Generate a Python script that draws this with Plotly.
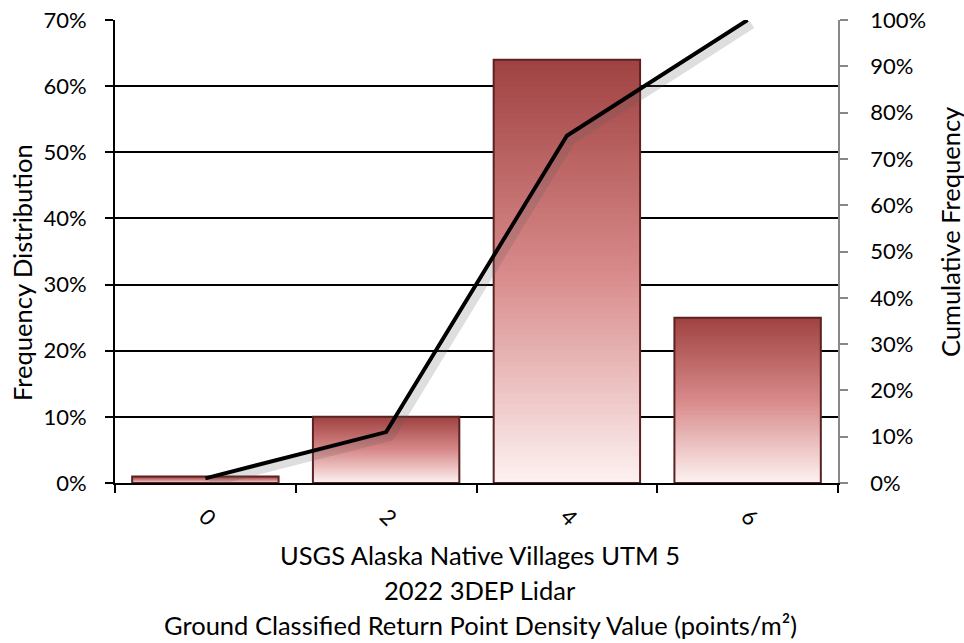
import plotly.graph_objects as go

categories = ["0", "2", "4", "6"]
frequency = [0.01, 0.10, 0.64, 0.25]
cumulative = [0.01, 0.11, 0.75, 1.00]
left_ticks = [0, 0.1, 0.2, 0.3, 0.4, 0.5, 0.6, 0.7]
right_ticks = [0, 0.1, 0.2, 0.3, 0.4, 0.5, 0.6, 0.7, 0.8, 0.9, 1.0]
x_title_lines = ["USGS Alaska Native Villages UTM 5",
                 "2022 3DEP Lidar",
                 "Ground Classified Return Point Density Value (points/m²)"]
y_title = "Frequency Distribution"
y2_title = "Cumulative Frequency"

FONT = "Lato"
N = 80

def lerp(c1, c2, t):
    return tuple(c1[i] + (c2[i] - c1[i]) * t for i in range(3))

bottom_c = (254, 242, 242)
mid_c = (216, 138, 138)
top_c = (160, 66, 66)

def grad(t):
    if t < 0.5:
        c = lerp(bottom_c, mid_c, t / 0.5)
    else:
        c = lerp(mid_c, top_c, (t - 0.5) / 0.5)
    return "rgb(%d,%d,%d)" % c

fig = go.Figure()
for i in range(N):
    base = [v * i / N for v in frequency]
    seg = [min(2.5 * v / N, v - b) for v, b in zip(frequency, base)]
    fig.add_trace(go.Bar(
        x=categories, y=seg, base=base,
        marker=dict(color=grad((i + 0.5) / N), line=dict(width=0)),
        showlegend=False, hoverinfo="skip", yaxis="y"))

fig.add_trace(go.Bar(
    x=categories, y=frequency,
    marker=dict(color="rgba(0,0,0,0)", line=dict(color="#5a2222", width=2)),
    showlegend=False, yaxis="y"))

# soft drop shadow of the cumulative line (same data, drawn on slightly shifted hidden axes)
fig.add_trace(go.Scatter(
    x=categories, y=cumulative, xaxis="x2", yaxis="y3", mode="lines",
    line=dict(color="rgba(90,90,90,0.2)", width=8), showlegend=False, hoverinfo="skip"))

fig.add_trace(go.Scatter(
    x=categories, y=cumulative, yaxis="y2", mode="lines",
    line=dict(color="black", width=4), showlegend=False))

TFS = 25.5
annotations = []
for txt, yy in zip(x_title_lines, [-0.1555, -0.2311, -0.3067]):
    annotations.append(dict(text=txt, xref="paper", yref="paper", x=0.505, y=yy,
                            xanchor="center", yanchor="middle", showarrow=False,
                            font=dict(size=TFS)))
annotations.append(dict(text=y_title, xref="paper", yref="paper", x=-0.1286, y=0.4536,
                        textangle=-90, xanchor="center", yanchor="middle",
                        showarrow=False, font=dict(size=TFS)))
annotations.append(dict(text=y2_title, xref="paper", yref="paper", x=1.155, y=0.542,
                        textangle=-90, xanchor="center", yanchor="middle",
                        showarrow=False, font=dict(size=TFS)))

sx = 0.025   # shadow shift in category units
sy = 0.010   # shadow shift in y2 units

fig.update_layout(
    width=964, height=643,
    margin=dict(l=115, r=126, t=20, b=160),
    paper_bgcolor="white", plot_bgcolor="white",
    barmode="overlay", bargap=0.19,
    font=dict(family=FONT, size=22, color="black"),
    annotations=annotations,
    xaxis=dict(
        type="category", tickson="boundaries", ticks="outside", ticklen=8,
        tickcolor="black", tickwidth=2, tickangle=45, automargin=False,
        ticklabelstandoff=10, range=[-0.5, 3.5],
        showline=True, linecolor="black", linewidth=2,
        showgrid=False,
    ),
    xaxis2=dict(type="category", overlaying="x", visible=False,
                range=[-0.5 - sx, 3.5 - sx]),
    yaxis=dict(
        range=[0, 0.7], tickvals=left_ticks, tickformat=".0%", automargin=False,
        ticks="outside", ticklen=8, tickcolor="black", tickwidth=2,
        ticklabelstandoff=14, ticklabeloverflow="allow",
        showline=True, linecolor="black", linewidth=2,
        showgrid=True, gridcolor="black", gridwidth=1.5, zeroline=False,
    ),
    yaxis2=dict(
        range=[0, 1.0], tickvals=right_ticks, tickformat=".0%", automargin=False,
        overlaying="y", side="right",
        ticks="outside", ticklen=8, tickcolor="#888", tickwidth=1.5,
        ticklabelstandoff=18, ticklabeloverflow="allow",
        showline=True, linecolor="#888", linewidth=1.5,
        showgrid=False, zeroline=False,
    ),
    yaxis3=dict(overlaying="y", visible=False, range=[0 + sy, 1.0 + sy]),
)

fig.write_html("out.html", config={"displayModeBar": False},
               post_script="document.body.style.margin='0';")
